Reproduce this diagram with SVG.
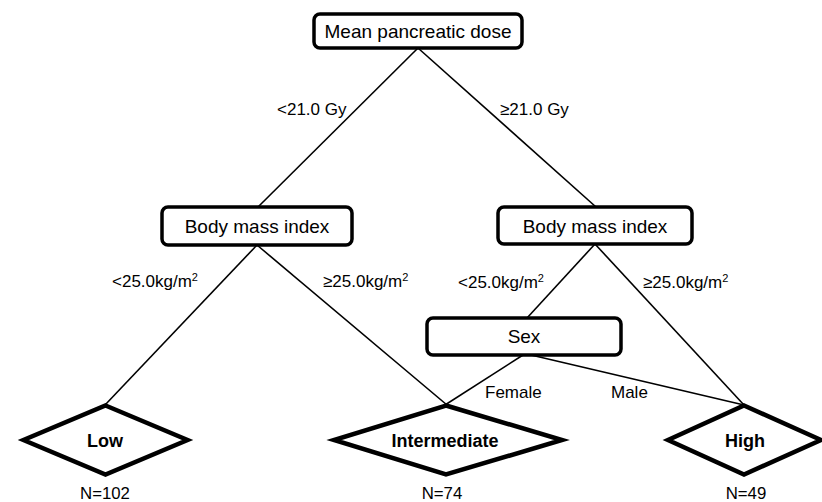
<svg xmlns="http://www.w3.org/2000/svg" width="822" height="502" viewBox="0 0 822 502">
<style>
.box{fill:#fff;stroke:#000;stroke-width:3.5}
.dia{fill:#fff;stroke:#000;stroke-width:4.5;stroke-linejoin:miter;stroke-miterlimit:10}
.ln{stroke:#000;stroke-width:1.6;fill:none}
text{font-family:"Liberation Sans",Arial,sans-serif;fill:#000}
.nt{font-size:19px;text-anchor:middle}
.lb{font-size:17px}
.lf{font-size:18px;font-weight:bold;text-anchor:middle}
.n{font-size:16.8px;text-anchor:middle}
</style>
<rect width="822" height="502" fill="#fff"/>
<g id="connectors">
<line class="ln" x1="418" y1="48" x2="258" y2="207"/>
<line class="ln" x1="418" y1="48" x2="596" y2="207"/>
<line class="ln" x1="257" y1="245" x2="105" y2="405"/>
<line class="ln" x1="257" y1="245" x2="447" y2="405"/>
<line class="ln" x1="595" y1="244" x2="527" y2="318"/>
<line class="ln" x1="595" y1="244" x2="744" y2="405"/>
<line class="ln" x1="523" y1="355" x2="445" y2="405"/>
<line class="ln" x1="531" y1="355" x2="744" y2="405"/>
</g>
<g id="labels">
<text class="lb" x="277" y="115">&lt;21.0 Gy</text>
<text class="lb" x="500" y="115">≥21.0 Gy</text>
<text class="lb" x="112" y="287">&lt;25.0kg/m<tspan font-size="11" dy="-6">2</tspan></text>
<text class="lb" x="323" y="287">≥25.0kg/m<tspan font-size="11" dy="-6">2</tspan></text>
<text class="lb" x="458" y="288">&lt;25.0kg/m<tspan font-size="11" dy="-6">2</tspan></text>
<text class="lb" x="643" y="288">≥25.0kg/m<tspan font-size="11" dy="-6">2</tspan></text>
<text class="lb" x="485" y="398">Female</text>
<text class="lb" x="611" y="398">Male</text>
</g>
<g id="n-root">
<rect class="box" x="314" y="14" width="208" height="34" rx="6"/>
<text class="nt" x="418" y="38">Mean pancreatic dose</text>
</g>
<g id="n-bmi-left">
<rect class="box" x="162" y="207" width="190" height="38" rx="6"/>
<text class="nt" x="257" y="233">Body mass index</text>
</g>
<g id="n-bmi-right">
<rect class="box" x="498" y="207" width="194" height="37" rx="6"/>
<text class="nt" x="595" y="233">Body mass index</text>
</g>
<g id="n-sex">
<rect class="box" x="427" y="318" width="194" height="37" rx="6"/>
<text class="nt" x="524" y="343">Sex</text>
</g>
<g id="n-low">
<polygon class="dia" points="105.5,405.5 187.5,440 105.5,474.5 23.5,440"/>
<text class="lf" x="105" y="447">Low</text>
<text class="n" x="105" y="499">N=102</text>
</g>
<g id="n-intermediate">
<polygon class="dia" points="446,405.5 562,440 446,474.5 334,440"/>
<text class="lf" x="445" y="447">Intermediate</text>
<text class="n" x="442" y="499">N=74</text>
</g>
<g id="n-high">
<polygon class="dia" points="744,405.5 821,440 744,474.5 668,440"/>
<text class="lf" x="745" y="447">High</text>
<text class="n" x="746" y="499">N=49</text>
</g>
</svg>
